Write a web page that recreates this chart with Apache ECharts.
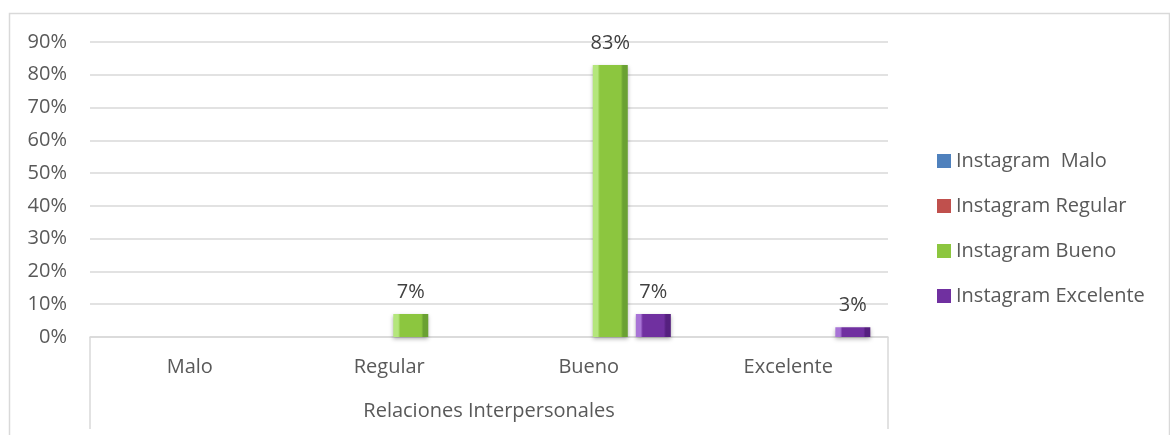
<!DOCTYPE html>
<html lang="es">

<head>
    <meta charset="UTF-8">
    <title>Instagram - Relaciones Interpersonales</title>
    <style>
        html, body {
            margin: 0;
            padding: 0;
            background: #fff;
        }

        .main {
            width: 1170px;
            height: 435px;
        }
    </style>
</head>

<body>
    <div class="main" id="main"></div>
    <script src="https://cdn.jsdelivr.net/npm/echarts@6/dist/echarts.min.js"></script>
    <script>
        // datos
        const categories = ['Malo', 'Regular', 'Bueno', 'Excelente'];
        const groupLabel = ['Relaciones Interpersonales'];
        const seriesNames = ['Instagram  Malo', 'Instagram Regular', 'Instagram Bueno', 'Instagram Excelente'];
        const malo = [0, 0, 0, 0];
        const regular = [0, 0, 0, 0];
        const bueno = [0, 7, 83, 0];
        const excelente = [0, 0, 7, 3];
        const yTicks = [0, 10, 20, 30, 40, 50, 60, 70, 80, 90];

        const font = 'Open Sans';
        const txt = '#595959';

        // colores: claro, base, oscuro
        const colors = [
            ['#8fb6e6', '#4f81bd', '#34629b'],
            ['#e08a88', '#c0504d', '#9a3634'],
            ['#b4e67c', '#8cc63f', '#6aa132'],
            ['#a874d6', '#7030a0', '#55207f']
        ];

        function barColor(c) {
            return new echarts.graphic.LinearGradient(0, 0, 1, 0, [
                { offset: 0, color: c[0] },
                { offset: 0.14, color: c[0] },
                { offset: 0.2, color: c[1] },
                { offset: 0.8, color: c[1] },
                { offset: 0.86, color: c[2] },
                { offset: 1, color: c[2] }
            ]);
        }

        const allData = [malo, regular, bueno, excelente];

        const myChart = echarts.init(document.getElementById('main'));

        const option = {
            animation: false,
            textStyle: { fontFamily: font },
            grid: {
                left: 90,
                right: 282,
                top: 42,
                bottom: 98
            },
            graphic: [
                {
                    type: 'polyline',
                    shape: { points: [[9.5, 440], [9.5, 13.5], [1169.5, 13.5], [1169.5, 440]] },
                    style: { stroke: '#d9d9d9', lineWidth: 1.5, fill: null }
                }
            ],
            legend: {
                orient: 'vertical',
                left: 932,
                top: 146,
                itemGap: 25,
                itemWidth: 14,
                itemHeight: 14,
                icon: 'rect',
                textStyle: { color: txt, fontSize: 20, fontFamily: font },
                data: seriesNames.map((n, i) => ({
                    name: n,
                    itemStyle: { color: colors[i][1] }
                }))
            },
            xAxis: [
                {
                    type: 'category',
                    data: categories,
                    axisLine: { lineStyle: { color: '#d9d9d9', width: 1.5 } },
                    axisTick: { show: false },
                    axisLabel: { color: txt, fontSize: 20, margin: 20 }
                },
                {
                    type: 'category',
                    data: groupLabel,
                    position: 'bottom',
                    axisLine: { show: false },
                    axisTick: { show: true, length: 92, lineStyle: { color: '#d9d9d9', width: 1.5 } },
                    axisLabel: { color: txt, fontSize: 20, margin: 64 }
                }
            ],
            yAxis: {
                type: 'value',
                min: 0,
                max: 90,
                interval: 10,
                axisLine: { show: false },
                axisTick: { show: false },
                splitLine: { lineStyle: { color: '#d9d9d9', width: 1.5 } },
                axisLabel: {
                    color: txt,
                    fontSize: 20,
                    margin: 23,
                    formatter: v => yTicks.indexOf(v) >= 0 ? v + '%' : ''
                }
            },
            series: seriesNames.map((name, i) => ({
                name: name,
                type: 'bar',
                xAxisIndex: 0,
                barWidth: 35,
                barGap: '23%',
                data: allData[i],
                itemStyle: {
                    color: barColor(colors[i]),
                    shadowColor: 'rgba(0,0,0,0.3)',
                    shadowBlur: 4,
                    shadowOffsetY: 2
                },
                label: {
                    show: true,
                    position: 'top',
                    distance: 12,
                    color: '#404040',
                    fontSize: 20,
                    formatter: p => p.value ? p.value + '%' : ''
                }
            }))
        };

        myChart.setOption(option);
    </script>
</body>

</html>
